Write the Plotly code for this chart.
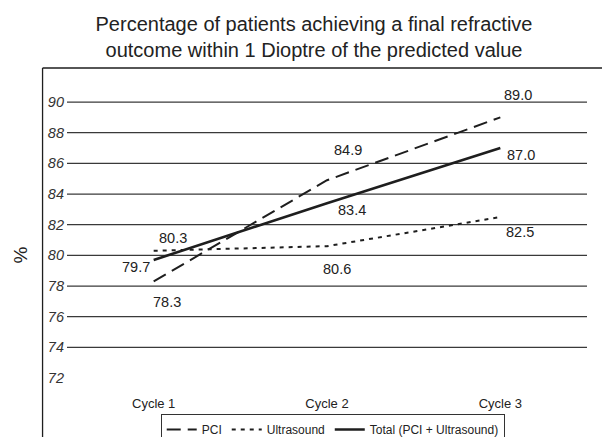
import plotly.graph_objects as go

# ---- data ----
categories = ["Cycle 1", "Cycle 2", "Cycle 3"]
pci = [78.3, 84.9, 89.0]
ultrasound = [80.3, 80.6, 82.5]
total = [79.7, 83.4, 87.0]
series_names = ["PCI", "Ultrasound", "Total (PCI + Ultrasound)"]
y_ticks = [72, 74, 76, 78, 80, 82, 84, 86, 88, 90]
grid_values = [74, 76, 78, 80, 82, 84, 86, 88, 90]

# ---- style ----
INK = "#1e1e1e"
FONT = "Liberation Sans, Arial, Helvetica, sans-serif"
label_offsets = {
    "PCI": [(13, -21), (21, 30), (18, 22)],
    "Ultrasound": [(19, 13), (10, -23), (20, -15)],
    "Total (PCI + Ultrasound)": [(-18, -7), (25, -7), (21, -7)],
}
styles = {
    "PCI": dict(dash="14px,7px", width=2),
    "Ultrasound": dict(dash="4px,5px", width=2),
    "Total (PCI + Ultrasound)": dict(dash="solid", width=2.6),
}

fig = go.Figure()
for name, vals in zip(series_names, [pci, ultrasound, total]):
    st = styles[name]
    fig.add_trace(go.Scatter(
        x=categories, y=vals, mode="lines", name=name,
        line=dict(color=INK, width=st["width"], dash=st["dash"]),
        cliponaxis=False,
    ))
    for c, v, (dx, dy) in zip(categories, vals, label_offsets[name]):
        fig.add_annotation(x=c, y=v, text=f"{v:.1f}", showarrow=False,
                           xshift=dx, yshift=dy,
                           font=dict(size=14.5, color="#222", family=FONT))

for g in grid_values:
    fig.add_shape(type="line", xref="paper", yref="y", x0=0, x1=1, y0=g, y1=g,
                  line=dict(color="#3a3a3a", width=1.2), layer="below")

# frame (left and top)
fig.add_shape(type="line", xref="paper", yref="paper", x0=-0.047, x1=-0.047,
              y0=-0.2, y1=1, line=dict(color=INK, width=1.3))
fig.add_shape(type="line", xref="paper", yref="paper", x0=-0.047, x1=1.05,
              y0=1, y1=1, line=dict(color=INK, width=1.3))

# y-axis title
fig.add_annotation(xref="paper", yref="paper", x=-0.089, y=0.42,
                   xanchor="center", yanchor="middle", text="%", textangle=-90,
                   showarrow=False, font=dict(size=19, color="#222", family=FONT))

fig.update_layout(
    width=602, height=437,
    margin=dict(l=67, r=15, t=68, b=47, autoexpand=False),
    paper_bgcolor="white", plot_bgcolor="white",
    font=dict(family=FONT, color="#222"),
    title=dict(text="Percentage of patients achieving a final refractive<br>outcome within 1 Dioptre of the predicted value",
               x=314 / 602, xref="container", xanchor="center",
               y=0.93, yref="container", yanchor="top",
               font=dict(size=20, color="#222", family=FONT)),
    showlegend=True,
    legend=dict(orientation="h", x=0.511, xanchor="center", y=-0.0745, yanchor="top",
                bordercolor="#333", borderwidth=1, font=dict(size=12, color="#222", family=FONT),
                tracegroupgap=0),
)
fig.update_xaxes(range=[-0.5, 2.5], showgrid=False, zeroline=False, showline=False,
                 ticks="", automargin=False, ticklabelstandoff=4,
                 tickfont=dict(size=13, color="#222", family=FONT))
fig.update_yaxes(range=[71.22, 92.22], tickvals=y_ticks, ticktext=[str(t) for t in y_ticks],
                 showgrid=False, zeroline=False, showline=False, ticks="", automargin=False,
                 tickfont=dict(size=14.5, color="#333", family=FONT, style="italic"),
                 ticklabelstandoff=2)

fig.write_html("out.html", config={"displayModeBar": False},
               post_script="document.body.style.margin='0';document.body.style.overflow='hidden';")
